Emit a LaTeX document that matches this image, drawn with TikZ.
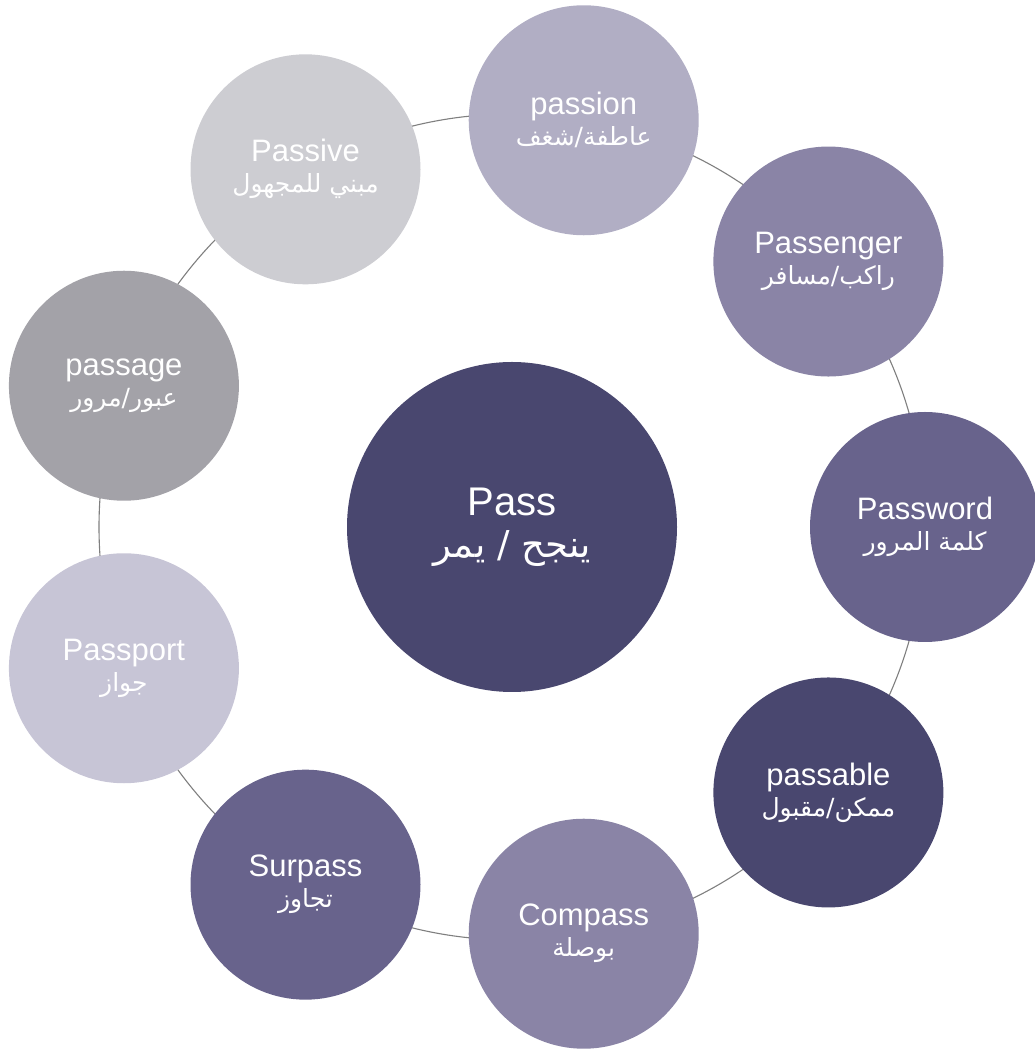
\documentclass[tikz,border=0pt]{standalone}
\usepackage{fontspec}
\setmainfont{Liberation Sans}
\newfontfamily\arabicfont[Script=Arabic]{DejaVu Sans}
\TeXXeTstate=1
\definecolor{cdark}{HTML}{49476F}
\definecolor{cmid}{HTML}{68638C}
\definecolor{clight}{HTML}{8A84A6}
\definecolor{cpale}{HTML}{B1AEC4}
\definecolor{cpaler}{HTML}{C7C5D6}
\definecolor{cgray}{HTML}{A3A2A8}
\definecolor{cgraylt}{HTML}{CDCDD2}
\definecolor{ringgray}{HTML}{7F7F7F}
\newcommand{\ar}[1]{{\arabicfont\fontsize{25}{30}\selectfont\beginR #1\endR}}
\newcommand{\arbig}[1]{{\arabicfont\fontsize{37}{42}\selectfont\beginR #1\endR}}
\begin{document}
\begin{tikzpicture}[x=1pt,y=1pt,
  bubble/.style={circle, minimum size=230pt, inner sep=0pt, text=white, align=center,
    font=\fontsize{31}{31}\selectfont},
  hub/.style={circle, minimum size=330pt, inner sep=0pt, fill=cdark, text=white, align=center,
    font=\fontsize{40}{42}\selectfont},
  ring/.style={draw=ringgray, line width=1.1pt}]
\useasboundingbox (0,0) rectangle (1035,1052);
\coordinate (c) at (512,525);
\draw[ring] (c) circle[radius=413pt];
\node[hub] (pass) at (c) {Pass\\[0pt]\arbig{ينجح / يمر}};
\begin{scope}[shift={(c)}]
  \node[bubble, fill=cpale]   (passion)   at (80:413pt)   {passion\\\ar{عاطفة/شغف}};
  \node[bubble, fill=clight]  (passenger) at (40:413pt)   {Passenger\\\ar{راكب/مسافر}};
  \node[bubble, fill=cmid]    (password)  at (0:413pt)    {Password\\\ar{كلمة المرور}};
  \node[bubble, fill=cdark]   (passable)  at (-40:413pt)  {passable\\\ar{ممكن/مقبول}};
  \node[bubble, fill=clight]  (compass)   at (-80:413pt)  {Compass\\\ar{بوصلة}};
  \node[bubble, fill=cmid]    (surpass)   at (-120:413pt) {Surpass\\\ar{تجاوز}};
  \node[bubble, fill=cpaler]  (passport)  at (-160:413pt) {Passport\\\ar{جواز}};
  \node[bubble, fill=cgray]   (passage)   at (160:413pt)  {passage\\\ar{عبور/مرور}};
  \node[bubble, fill=cgraylt] (passive)   at (120:413pt)  {Passive\\\ar{مبني للمجهول}};
\end{scope}
\end{tikzpicture}
\end{document}
